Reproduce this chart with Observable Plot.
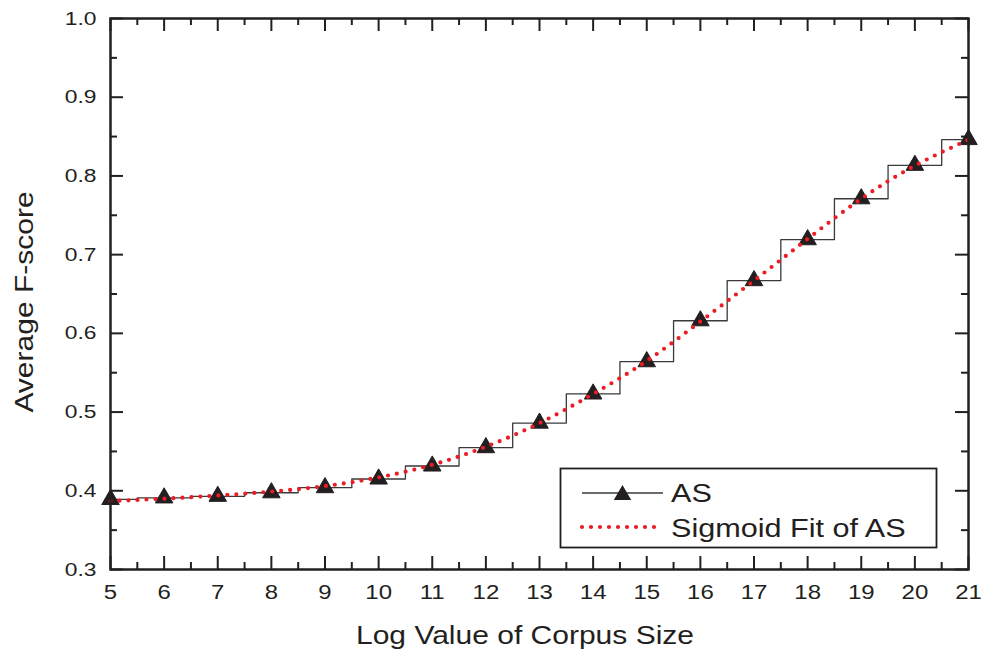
<!DOCTYPE html>
<html>
<head>
<meta charset="utf-8">
<script src="https://cdn.jsdelivr.net/npm/d3@7"></script>
<script src="https://cdn.jsdelivr.net/npm/@observablehq/plot@0.6"></script>
<style>
  html, body { margin: 0; padding: 0; background: #fff; }
  #chart { position: relative; width: 981px; height: 654px; }
  svg { font-family: "Liberation Sans", Arial, Helvetica, sans-serif; }
</style>
</head>
<body>
<div id="chart"></div>
<script>
// ---- data ----
const logSize = [5, 6, 7, 8, 9, 10, 11, 12, 13, 14, 15, 16, 17, 18, 19, 20, 21];
const asScore = [0.389, 0.391, 0.393, 0.3975, 0.404, 0.415, 0.4315, 0.4548, 0.486, 0.523, 0.564, 0.616, 0.667, 0.719, 0.771, 0.8135, 0.8462];
const fitScore = [0.387, 0.390, 0.394, 0.399, 0.406, 0.417, 0.433, 0.456, 0.486, 0.523, 0.565, 0.615, 0.667, 0.720, 0.771, 0.813, 0.846];
const xTicks = [5, 6, 7, 8, 9, 10, 11, 12, 13, 14, 15, 16, 17, 18, 19, 20, 21];
const xMinorTicks = [5.5, 6.5, 7.5, 8.5, 9.5, 10.5, 11.5, 12.5, 13.5, 14.5, 15.5, 16.5, 17.5, 18.5, 19.5, 20.5];
const yTicks = [0.3, 0.4, 0.5, 0.6, 0.7, 0.8, 0.9, 1.0];
const yMinorTicks = [0.35, 0.45, 0.55, 0.65, 0.75, 0.85, 0.95];
const seriesNames = ["AS", "Sigmoid Fit of AS"];
const xTitle = "Log Value of Corpus Size";
const yTitle = "Average F-score";

const asData = logSize.map((x, i) => ({x, y: asScore[i]}));
const fitData = logSize.map((x, i) => ({x, y: fitScore[i]}));

// ---- layout ----
const W = 981, H = 654;
const mL = 110, mR = 13, mT = 18, mB = 85;
const innerW = W - mL - mR, innerH = H - mT - mB;
const major = 13, minor = 7;
const ink = "#231f20";
const stretch = 1.2; // reference glyphs are horizontally widened

const plot = Plot.plot({
  width: W, height: H,
  marginLeft: mL, marginRight: mR, marginTop: mT, marginBottom: mB,
  style: {fontFamily: "'Liberation Sans', Arial, sans-serif", background: "#fff", color: ink},
  x: {domain: [5, 21]},
  y: {domain: [0.3, 1.0]},
  marks: [
    Plot.line(asData, {x: "x", y: "y", curve: "step", stroke: "#3a3a3a", strokeWidth: 1.3}),
    Plot.dot(asData, {x: "x", y: "y", symbol: "triangle", r: 6.5, fill: ink, stroke: ink, strokeWidth: 1}),
    Plot.line(fitData, {x: "x", y: "y", curve: "natural", stroke: "#ec1c24", strokeWidth: 4.2, strokeDasharray: "0,9", strokeLinecap: "round"}),
    Plot.tickX(xTicks, {x: d => d, insetTop: innerH - major, stroke: ink, strokeWidth: 2}),
    Plot.tickX(xMinorTicks, {x: d => d, insetTop: innerH - minor, stroke: ink, strokeWidth: 2}),
    Plot.tickX(xTicks, {x: d => d, insetBottom: innerH - major, stroke: ink, strokeWidth: 2}),
    Plot.tickX(xMinorTicks, {x: d => d, insetBottom: innerH - minor, stroke: ink, strokeWidth: 2}),
    Plot.tickY(yTicks, {y: d => d, insetRight: innerW - major, stroke: ink, strokeWidth: 2}),
    Plot.tickY(yMinorTicks, {y: d => d, insetRight: innerW - minor, stroke: ink, strokeWidth: 2}),
    Plot.tickY(yTicks, {y: d => d, insetLeft: innerW - major, stroke: ink, strokeWidth: 2}),
    Plot.tickY(yMinorTicks, {y: d => d, insetLeft: innerW - minor, stroke: ink, strokeWidth: 2}),
    Plot.frame({stroke: ink, strokeWidth: 2.5}),
    Plot.axisX({ticks: xTicks, tickSize: 0, tickPadding: 15, fontSize: 20, label: null, tickFormat: d3.format("d")}),
    Plot.axisY({ticks: yTicks, tickSize: 0, tickPadding: 14, fontSize: 19, label: null, tickFormat: d3.format(".1f")})
  ]
});

document.getElementById("chart").appendChild(plot);

const svg = d3.select(plot);
svg.append("text")
  .attr("x", 525).attr("y", 644)
  .attr("text-anchor", "middle").attr("font-size", 25).attr("fill", ink)
  .text(xTitle);
svg.append("text")
  .attr("transform", `translate(33,302) rotate(-90)`)
  .attr("text-anchor", "middle").attr("font-size", 25).attr("fill", ink)
  .text(yTitle);

// legend
const lg = svg.append("g").attr("text-anchor", "start");
lg.append("rect").attr("x", 560.5).attr("y", 468.5).attr("width", 376).attr("height", 79)
  .attr("fill", "#fff").attr("stroke", ink).attr("stroke-width", 1.8);
lg.append("line").attr("x1", 582).attr("x2", 663).attr("y1", 493).attr("y2", 493)
  .attr("stroke", "#3a3a3a").attr("stroke-width", 1.3);
lg.append("path").attr("transform", "translate(622.5,495)")
  .attr("d", d3.symbol(d3.symbolTriangle, Math.PI * 42)()).attr("fill", ink);
lg.append("line").attr("x1", 582).attr("x2", 657).attr("y1", 527).attr("y2", 527)
  .attr("stroke", "#ec1c24").attr("stroke-width", 4.2).attr("stroke-dasharray", "0,9").attr("stroke-linecap", "round");
lg.append("text").attr("x", 671).attr("y", 502).attr("font-size", 25.5).attr("fill", ink).text(seriesNames[0]);
lg.append("text").attr("x", 671).attr("y", 537).attr("font-size", 25.5).attr("fill", ink).text(seriesNames[1]);

// widen all text glyphs horizontally to match the reference
svg.selectAll("text").each(function() {
  const len = this.getComputedTextLength();
  if (len > 0) {
    this.setAttribute("textLength", (len * stretch).toFixed(1));
    this.setAttribute("lengthAdjust", "spacingAndGlyphs");
  }
});
</script>
</body>
</html>
